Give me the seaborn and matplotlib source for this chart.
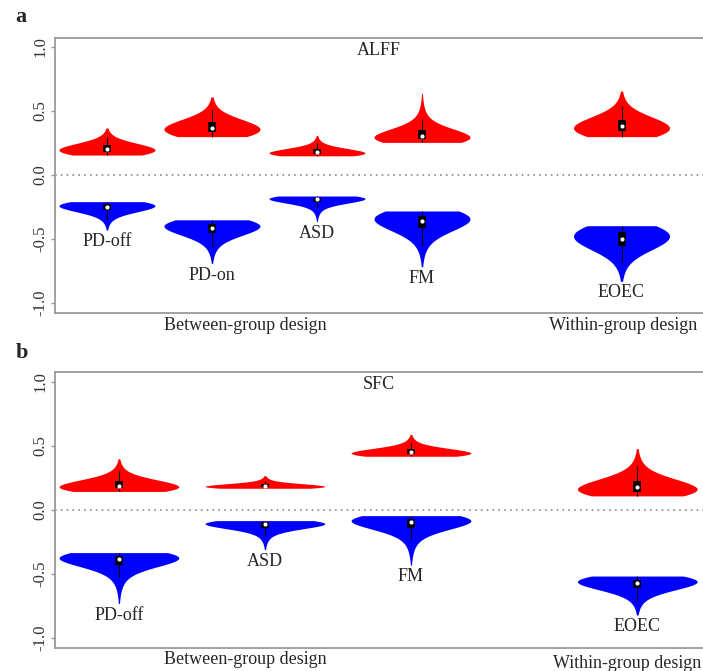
import numpy as np
import pandas as pd
import matplotlib
matplotlib.use("Agg")
import matplotlib.pyplot as plt
import seaborn as sns

# groups and their x slots (extra gap before the within-group design)
alff_groups = ["PD-off", "PD-on", "ASD", "FM", "EOEC"]
alff_x = [1, 2, 3, 4, 5.9]
sfc_groups = ["PD-off", "ASD", "FM", "EOEC"]
sfc_x = [1, 2, 3, 4.55]

# number of values at each of the 12 levels of every list below (base -> tail)
level_counts = [70, 72, 58, 42, 30, 21, 14, 9, 6, 4, 2, 1]

# ALFF correlations, positive (red) and negative (blue)
alff_pdoff_red = [0.156, 0.181, 0.205, 0.219, 0.234, 0.249, 0.264, 0.280, 0.297, 0.318, 0.342, 0.367]
alff_pdoff_blue = [-0.208, -0.228, -0.248, -0.264, -0.277, -0.292, -0.310, -0.328, -0.348, -0.372, -0.399, -0.430]
alff_pdon_red = [0.300, 0.337, 0.371, 0.393, 0.415, 0.436, 0.458, 0.483, 0.508, 0.539, 0.573, 0.610]
alff_pdon_blue = [-0.350, -0.381, -0.411, -0.435, -0.455, -0.479, -0.506, -0.534, -0.564, -0.602, -0.642, -0.690]
alff_asd_red = [0.150, 0.164, 0.179, 0.190, 0.200, 0.211, 0.224, 0.236, 0.251, 0.268, 0.288, 0.310]
alff_asd_blue = [-0.164, -0.176, -0.190, -0.202, -0.213, -0.226, -0.242, -0.260, -0.280, -0.304, -0.332, -0.364]
alff_fm_red = [0.255, 0.278, 0.305, 0.328, 0.349, 0.374, 0.404, 0.439, 0.477, 0.523, 0.577, 0.638]
alff_fm_blue = [-0.281, -0.320, -0.359, -0.390, -0.416, -0.446, -0.481, -0.516, -0.555, -0.603, -0.655, -0.716]
alff_eoec_red = [0.300, 0.343, 0.382, 0.407, 0.432, 0.457, 0.482, 0.510, 0.539, 0.574, 0.613, 0.656]
alff_eoec_blue = [-0.396, -0.448, -0.496, -0.526, -0.557, -0.587, -0.617, -0.652, -0.687, -0.730, -0.778, -0.830]

# SFC correlations
sfc_pdoff_red = [0.145, 0.168, 0.191, 0.209, 0.224, 0.242, 0.262, 0.283, 0.306, 0.334, 0.364, 0.400]
sfc_pdoff_blue = [-0.333, -0.357, -0.385, -0.408, -0.430, -0.456, -0.488, -0.524, -0.563, -0.611, -0.666, -0.730]
sfc_asd_red = [0.170, 0.179, 0.188, 0.195, 0.200, 0.207, 0.215, 0.223, 0.232, 0.243, 0.254, 0.268]
sfc_asd_blue = [-0.083, -0.097, -0.113, -0.126, -0.139, -0.153, -0.172, -0.192, -0.215, -0.242, -0.274, -0.310]
sfc_fm_red = [0.420, 0.435, 0.451, 0.463, 0.473, 0.485, 0.498, 0.512, 0.527, 0.546, 0.566, 0.590]
sfc_fm_blue = [-0.044, -0.067, -0.094, -0.117, -0.139, -0.164, -0.195, -0.229, -0.268, -0.314, -0.368, -0.430]
sfc_eoec_red = [0.110, 0.143, 0.177, 0.203, 0.225, 0.251, 0.280, 0.310, 0.343, 0.384, 0.428, 0.480]
sfc_eoec_blue = [-0.516, -0.543, -0.571, -0.592, -0.610, -0.632, -0.656, -0.680, -0.708, -0.741, -0.777, -0.820]

alff_red = [alff_pdoff_red, alff_pdon_red, alff_asd_red, alff_fm_red, alff_eoec_red]
alff_blue = [alff_pdoff_blue, alff_pdon_blue, alff_asd_blue, alff_fm_blue, alff_eoec_blue]
sfc_red = [sfc_pdoff_red, sfc_asd_red, sfc_fm_red, sfc_eoec_red]
sfc_blue = [sfc_pdoff_blue, sfc_asd_blue, sfc_fm_blue, sfc_eoec_blue]


def make_frame(groups, xs, reds, blues):
    parts = []
    for g, x, r, b in zip(groups, xs, reds, blues):
        for vals, sign in ((r, "pos"), (b, "neg")):
            v = np.repeat(vals, level_counts)
            parts.append(pd.DataFrame({"group": g, "x": x, "r": v, "sign": sign}))
    return pd.concat(parts, ignore_index=True)


sns.set_theme(style="white")
plt.rcParams["font.family"] = ["Liberation Serif", "DejaVu Serif"]

fig = plt.figure(figsize=(7.03, 6.71), dpi=100)
ax_a = fig.add_axes([0.0782, 0.5335, 0.9218, 0.4098])
ax_b = fig.add_axes([0.0782, 0.0343, 0.9218, 0.4113])

panels = [
    (ax_a, alff_groups, alff_x, alff_red, alff_blue, 0.914, (-1.078, 1.07), (0.505, 6.676), "ALFF"),
    (ax_b, sfc_groups, sfc_x, sfc_red, sfc_blue, 0.82, (-1.078, 1.078), (0.562, 5.0), "SFC"),
]

for ax, groups, xs, reds, blues, w, ylim, xlim, title in panels:
    df = make_frame(groups, xs, reds, blues)
    sns.violinplot(data=df, x="x", y="r", hue="sign",
                   palette={"pos": "#ff0000", "neg": "#0000ff"},
                   native_scale=True, dodge=False, width=w, cut=0,
                   density_norm="width", bw_adjust=2.5, saturation=1,
                   linewidth=0, linecolor="black", inner="box",
                   inner_kws=dict(box_width=5.5, whis_width=0.8, marker="o"),
                   legend=False, ax=ax)
    # square box ends, small white median dots
    for ln in ax.lines:
        ln.set_solid_capstyle("butt")
        if ln.get_marker() == "o":
            ln.set_markersize(3)
            ln.set_markeredgewidth(0)
            ln.set_markerfacecolor("white")
    ax.axhline(0, color="#8a8a8a", lw=1.2, ls=(0, (1, 2.5)), zorder=0)
    for g, x, b in zip(groups, xs, blues):
        ax.text(x, min(b) - 0.025, g, ha="center", va="top", fontsize=13)
    ax.text(0.5, 0.955, title, transform=ax.transAxes, ha="center", va="center", fontsize=13)
    ax.set_xlim(*xlim)
    ax.set_ylim(*ylim)
    ax.set_xticks([])
    ax.set_xlabel("")
    ax.set_ylabel("")
    ax.set_yticks([-1, -0.5, 0, 0.5, 1])
    ax.set_yticklabels(["-1.0", "-0.5", "0.0", "0.5", "1.0"], rotation=90, va="center", fontsize=12, color="#333333")
    ax.tick_params(axis="y", left=True, length=3, width=1, color="#999999", pad=2)
    ax.spines["right"].set_visible(False)
    for s in ("left", "top", "bottom"):
        ax.spines[s].set_color("#9a9a9a")
        ax.spines[s].set_linewidth(1.3)

fig.text(21 / 703, 1 - 17 / 671, "a", fontsize=16, fontweight="bold", ha="center", va="center")
fig.text(22 / 703, 1 - 353 / 671, "b", fontsize=16, fontweight="bold", ha="center", va="center")
fig.text(245 / 703, 1 - 325 / 671, "Between-group design", fontsize=13, ha="center", va="center")
fig.text(623 / 703, 1 - 325 / 671, "Within-group design", fontsize=13, ha="center", va="center")
fig.text(245 / 703, 1 - 660 / 671, "Between-group design", fontsize=13, ha="center", va="center")
fig.text(627 / 703, 1 - 663 / 671, "Within-group design", fontsize=13, ha="center", va="center")

fig.savefig("out.png", dpi=100)
